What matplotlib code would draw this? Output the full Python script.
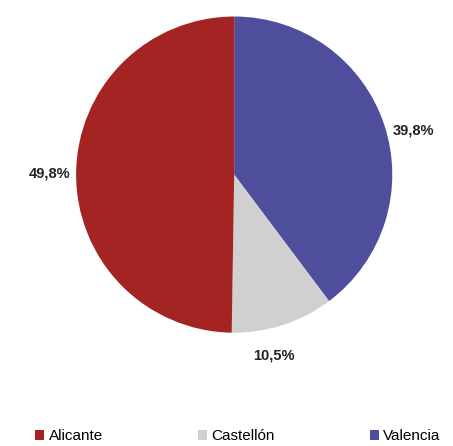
import matplotlib.pyplot as plt
import numpy as np

plt.rcParams['font.family'] = ['Liberation Sans', 'DejaVu Sans']

categorias = ['Valencia', 'Castellón', 'Alicante']
valores = [39.8, 10.5, 49.8]
colores = ['#4E4E9C', '#D0D0D0', '#A42424']

fig = plt.figure(figsize=(4.53, 4.46), dpi=100)
ax = fig.add_axes([0.168, 0.254, 0.698, 0.709])

wedges, _ = ax.pie(valores, colors=colores, startangle=90, counterclock=False,
                   wedgeprops=dict(linewidth=0))
ax.set_aspect('equal')
ax.set_xlim(-1, 1)
ax.set_ylim(-1, 1)

# etiquetas con coma decimal (ligero giro como en el original)
giro = [-4.5, -5.5, 0]
for w, v, g in zip(wedges, valores, giro):
    ang = np.deg2rad((w.theta1 + w.theta2) / 2 + g)
    r = 1.17
    ax.text(r * np.cos(ang), r * np.sin(ang), f"{v:.1f}".replace('.', ',') + '%',
            ha='center', va='center', fontsize=10.5, fontweight='bold', color='#222222')

# leyenda: Alicante, Castellón, Valencia
orden = [2, 1, 0]
leg = fig.legend([wedges[i] for i in orden], [categorias[i] for i in orden],
                 loc='center', bbox_to_anchor=(0.525, 0.022), ncol=3, frameon=False,
                 fontsize=11, handlelength=0.6, handleheight=0.6, handletextpad=0.3,
                 columnspacing=6.2)

fig.savefig('out.png', dpi=100)
